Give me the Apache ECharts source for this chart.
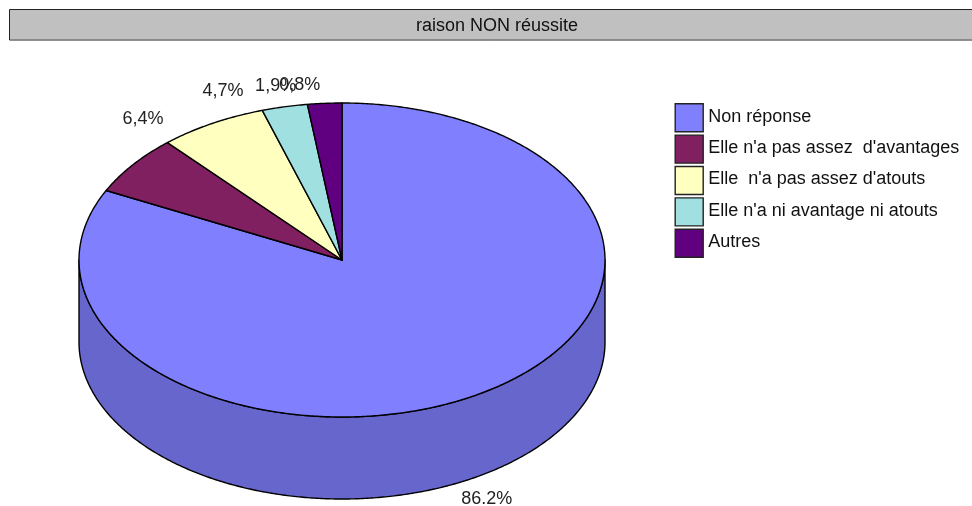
<!DOCTYPE html>
<html><head><meta charset="utf-8">
<style>html,body{margin:0;padding:0;background:#fff}#c{width:972px;height:506px}</style>
<script src="https://cdn.jsdelivr.net/npm/echarts@6/dist/echarts.min.js"></script>
</head><body><div id="c"></div>
<script>
const chartTitle = "raison NON réussite";
const categories = ["Non réponse", "Elle n'a pas assez  d'avantages", "Elle  n'a pas assez d'atouts", "Elle n'a ni avantage ni atouts", "Autres"];
// printed labels of the original
const valueLabels = ["86.2%", "6,4%", "4,7%", "1,9%", "0,8%"];
// share of the ellipse each slice really occupies in the picture (percent)
const drawnShares = [82.3, 6.15, 6.65, 2.8, 2.1];
const colors = ["#8080FF", "#802060", "#FFFFC0", "#A0E0E0", "#600080"];
const wallColor = "#6666CC";

const CX = 342, CY = 260, RX = 263, RY = 157, DEPTH = 82;
// label displacement from the slice's rim point
const labelNudge = [[6, 24], [10, -46], [11, -32], [-9, -21], [-25, -18]];
const TEXT_FONT = "18px 'Liberation Sans', Arial, sans-serif";

const total = drawnShares.reduce((a, b) => a + b, 0);
const toDeg = v => v / total * 360;
function startDeg(i) { let s = 0; for (let k = 0; k < i; k++) s += toDeg(drawnShares[k]); return s; }
// angle is clockwise from the top
function rim(deg, dy) {
  const r = deg * Math.PI / 180;
  return [CX + RX * Math.sin(r), CY - RY * Math.cos(r) + (dy || 0)];
}
function arc(a0, a1, dy) {
  const pts = [], n = Math.max(2, Math.ceil((a1 - a0) * 2));
  for (let k = 0; k <= n; k++) pts.push(rim(a0 + (a1 - a0) * k / n, dy));
  return pts;
}
const seriesList = categories.map((name, i) => ({
  type: "custom",
  name: name,
  coordinateSystem: "none",
  silent: true,
  animation: false,
  itemStyle: { color: colors[i] },
  data: [drawnShares[i]],
  renderItem: function (params, api) {
    const a0 = startDeg(i), a1 = a0 + toDeg(api.value(0));
    const children = [];
    const w0 = Math.max(a0, 90), w1 = Math.min(a1, 270);
    if (w1 > w0) {
      children.push({
        type: "polygon",
        shape: { points: arc(w0, w1, 0).concat(arc(w0, w1, DEPTH).reverse()) },
        style: { fill: wallColor, stroke: "#000", lineWidth: 1.4, lineJoin: "round" }
      });
    }
    children.push({
      type: "polygon",
      shape: { points: [[CX, CY]].concat(arc(a0, a1, 0)) },
      style: { fill: colors[i], stroke: "#000", lineWidth: 1.4, lineJoin: "round" }
    });
    const mid = (a0 + a1) / 2;
    const front = mid > 90 && mid < 270;
    const p = rim(mid, front ? DEPTH : 0);
    children.push({
      type: "text",
      style: {
        x: p[0] + labelNudge[i][0], y: p[1] + labelNudge[i][1],
        text: valueLabels[i], font: TEXT_FONT, fill: "#222",
        align: "center", verticalAlign: "middle"
      }
    });
    return { type: "group", children: children };
  }
}));

const chart = echarts.init(document.getElementById("c"), null, { renderer: "canvas" });
chart.setOption({
  animation: false,
  backgroundColor: "#fff",
  title: {
    text: chartTitle, left: 497, top: 26.5, textAlign: "center", textVerticalAlign: "middle", padding: 0,
    textStyle: { fontFamily: "Liberation Sans", fontSize: 18, fontWeight: "normal", color: "#111" }
  },
  legend: {
    left: 674.5, top: 103, orient: "vertical", padding: 0,
    itemWidth: 28, itemHeight: 28, itemGap: 2, icon: "rect",
    selectedMode: false,
    data: categories,
    itemStyle: { borderColor: "#222", borderWidth: 1.4 },
    formatter: n => "{t|" + n + "}",
    textStyle: {
      fontFamily: "Liberation Sans", fontSize: 18, color: "#111",
      rich: { t: { fontFamily: "Liberation Sans", fontSize: 18, color: "#111", padding: [0, 0, 2, 0] } }
    }
  },
  graphic: [
    { type: "rect", z: -1, shape: { x: 9.5, y: 9.5, width: 970, height: 30.5 },
      style: { fill: "#C0C0C0", stroke: "#222", lineWidth: 1 } },
    { type: "line", z: -1, shape: { x1: 10, y1: 39.5, x2: 972, y2: 39.5 },
      style: { stroke: "#8a8a8a", lineWidth: 1 } }
  ],
  series: seriesList
});
</script></body></html>
